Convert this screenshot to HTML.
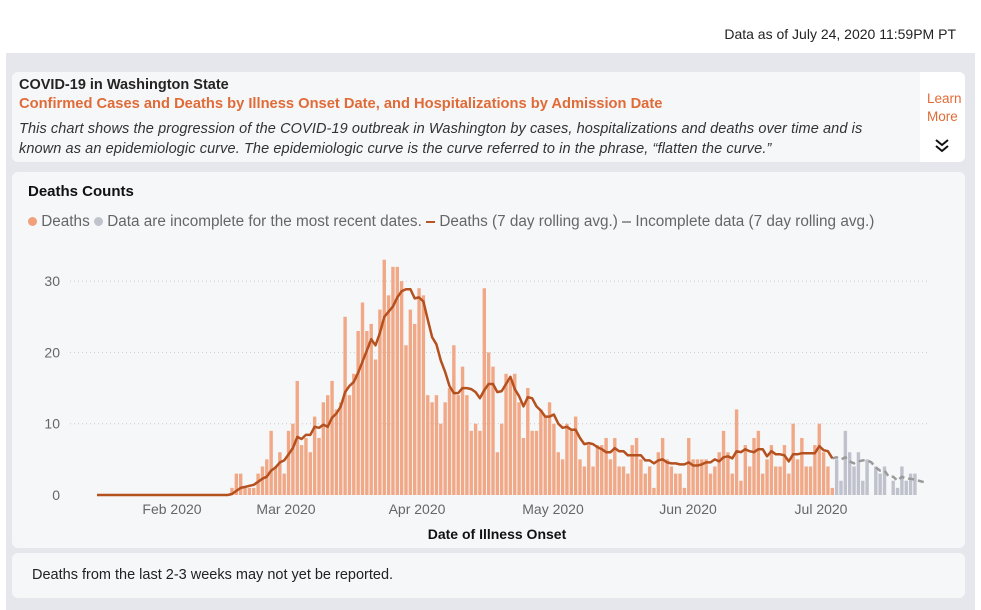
<!DOCTYPE html>
<html><head><meta charset="utf-8">
<style>
*{margin:0;padding:0;box-sizing:border-box}
body{width:981px;height:610px;background:#fff;font-family:"Liberation Sans","DejaVu Sans",sans-serif;position:relative;overflow:hidden;color:#252423}
#bg{position:absolute;left:6px;top:53px;width:969px;height:557px;background:#e6e7ec}
.p{position:absolute;background:#f6f7f9;border-radius:6px}
#top{position:absolute;right:25px;top:26px;font-size:14px;color:#222}
</style></head><body>
<div id="top">Data as of July 24, 2020 11:59PM PT</div>
<div id="bg"></div>
<div class="p" style="left:12px;top:72px;width:953px;height:90px;">
 <div style="position:absolute;right:0;top:0;width:45px;height:90px;background:#fff;border-radius:0 6px 6px 0"></div>
 <div style="position:absolute;left:7px;top:5px;font-size:14.5px;font-weight:bold;color:#252423">COVID-19 in Washington State</div>
 <div style="position:absolute;left:7px;top:24px;font-size:14.7px;font-weight:bold;color:#e06b37;white-space:nowrap">Confirmed Cases and Deaths by Illness Onset Date, and Hospitalizations by Admission Date</div>
 <div style="position:absolute;left:7px;top:47px;width:870px;font-size:14.5px;font-style:italic;color:#333;line-height:20px;letter-spacing:0.1px">This chart shows the progression of the COVID-19 outbreak in Washington by cases, hospitalizations and deaths over time and is known as an epidemiologic curve. The epidemiologic curve is the curve referred to in the phrase, “flatten the curve.”</div>
 <div style="position:absolute;left:915px;top:18px;font-size:13.5px;color:#e06b37;line-height:18px">Learn<br>More</div>
 <svg style="position:absolute;left:922px;top:66px" width="16" height="16"><path d="M2,2 L8,7 L14,2 M2,8 L8,13 L14,8" fill="none" stroke="#111" stroke-width="2"/></svg>
</div>
<div class="p" style="left:12px;top:172px;width:953px;height:376px;">
 <div style="position:absolute;left:16px;top:11px;font-size:15px;font-weight:bold;color:#111">Deaths Counts</div>
 <div style="position:absolute;left:16px;top:41px;font-size:15.3px;color:#666;white-space:nowrap">
  <span style="display:inline-block;width:9px;height:9px;border-radius:50%;background:#f0a07a;vertical-align:middle"></span> Deaths <span style="display:inline-block;width:9px;height:9px;border-radius:50%;background:#c0c2cc;vertical-align:middle"></span> Data are incomplete for the most recent dates. <span style="display:inline-block;width:9px;height:2px;background:#b85525;vertical-align:middle"></span> Deaths (7 day rolling avg.) <span style="display:inline-block;width:9px;height:2px;background:#999;vertical-align:middle"></span> Incomplete data (7 day rolling avg.)</div>
</div>
<div class="p" style="left:12px;top:553px;width:953px;height:45px;">
 <div style="position:absolute;left:20px;top:14px;font-size:14.5px;color:#222">Deaths from the last 2-3 weeks may not yet be reported.</div>
</div>
<svg id="c" width="981" height="610" style="position:absolute;left:0;top:0"></svg>
<script>
var o=[1,3,3,1,1,1,3,4,5,9,4,6,3,9,10,16,7,8,6,11,8,13,14,16,12,13,25,14,17,23,27,23,24,19,26,33,28,32,32,30,21,26,24,29,28,14,13,14,10,13,15,21,14,18,14,9,10,9,29,20,18,6,10,17,16,17,13,8,15,9,9,12,11,13,10,6,5,10,9,11,5,4,7,4,7,7,8,5,8,4,4,3,7,8,5,3,4,1,6,8,5,4,3,3,1,8,5,5,5,5,3,4,6,9,6,3,12,2,7,4,8,9,3,5,7,4,4,7,3,10,5,8,4,4,7,10,6,4,1];
var g=[5,2,9,6,4,6,2,5,0,4,3,4,0,2,1,4,2,3,3];
var X0=232,P=4.35,Y0=495,S=7.13,s='';
function X(d){return X0+d*P}function Y(v){return Y0-v*S}
[10,20,30].forEach(function(v){s+='<line x1="70" x2="930" y1="'+Y(v)+'" y2="'+Y(v)+'" stroke="#ccc" stroke-dasharray="1,3"/>';});
[0,10,20,30].forEach(function(v){s+='<text x="60" y="'+(Y(v)+5)+'" font-size="14" fill="#666" text-anchor="end" font-family="Liberation Sans,sans-serif">'+v+'</text>';});
o.forEach(function(v,i){s+='<rect x="'+(X(i)-1.7)+'" y="'+Y(v)+'" width="3.4" height="'+v*S+'" fill="#f1a886"/>';});
g.forEach(function(v,i){s+='<rect x="'+(X(i+o.length)-1.7)+'" y="'+Y(v)+'" width="3.4" height="'+v*S+'" fill="#bfc1cc"/>';});
var all=o.concat(g),a=[];
for(var i=0;i<all.length;i++){var t=0;for(var k=i-6;k<=i;k++)t+=(k>=0?all[k]:0);a.push(t/7);}
var p1='M97,'+Y0+' L'+X(-1)+','+Y0;for(i=0;i<o.length;i++)p1+=' L'+X(i).toFixed(1)+','+Y(a[i]).toFixed(1);
var p2='M'+X(o.length-1).toFixed(1)+','+Y(a[o.length-1]).toFixed(1);for(i=o.length;i<all.length;i++)p2+=' L'+X(i).toFixed(1)+','+Y(a[i]).toFixed(1);
p2+=' L924,'+Y(1.8);
s+='<path d="'+p2+'" fill="none" stroke="#9a9a9a" stroke-width="2.5" stroke-dasharray="6,4"/>';
s+='<path d="'+p1+'" fill="none" stroke="#b5501f" stroke-width="2.5" stroke-linejoin="round"/>';
[['Feb 2020',172],['Mar 2020',286],['Apr 2020',417],['May 2020',553],['Jun 2020',688],['Jul 2020',821]].forEach(function(l){s+='<text x="'+l[1]+'" y="514" font-size="14" fill="#666" text-anchor="middle" font-family="Liberation Sans,sans-serif">'+l[0]+'</text>';});
s+='<text x="497" y="539" font-size="14" font-weight="bold" fill="#111" text-anchor="middle" font-family="Liberation Sans,sans-serif">Date of Illness Onset</text>';
document.getElementById('c').innerHTML=s;
</script>
</body></html>
